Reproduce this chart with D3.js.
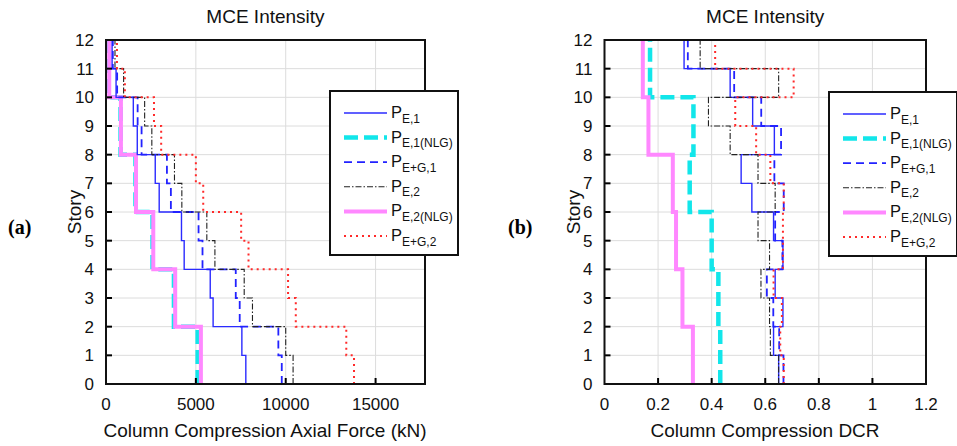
<!DOCTYPE html>
<html>
<head>
<meta charset="utf-8">
<script src="https://cdn.jsdelivr.net/npm/d3@7"></script>
<style>
  html, body { margin: 0; padding: 0; background: #fff; }
  svg { display: block; font-family: "Liberation Sans", Arial, sans-serif; }
</style>
</head>
<body>
<script>
// Story levels and axis ticks
const storyTicks = d3.range(0, 13);
const forceTicks = [0, 5000, 10000, 15000];
const dcrTicks = [0, 0.2, 0.4, 0.6, 0.8, 1, 1.2];

// Values per story interval: index i covers story i to i+1 (0-1 ... 11-12)
// (a) Column compression axial force, kN
const forcePE1     = [7780, 7560, 5960, 5800, 4350, 4200, 2960, 2740, 1740, 1520, 560, 340];
const forcePE1NLG  = [5100, 5100, 3780, 3780, 2590, 2590, 1640, 1640, 810, 810, 150, 150];
const forcePEG1    = [9780, 9590, 7440, 7220, 5370, 5150, 3610, 3390, 1980, 1760, 620, 380];
const forcePE2     = [10410, 10000, 8150, 7690, 6060, 5610, 4220, 3810, 2550, 2150, 980, 500];
const forcePE2NLG  = [5280, 5280, 3850, 3850, 2630, 2630, 1670, 1670, 830, 830, 180, 180];
const forcePEG2    = [13800, 13370, 10560, 10130, 7930, 7520, 5410, 5000, 3070, 2670, 1050, 610];

// (b) Column compression demand-to-capacity ratio
const dcrPE1     = [0.650, 0.631, 0.666, 0.637, 0.666, 0.631, 0.550, 0.510, 0.634, 0.553, 0.469, 0.297];
const dcrPE1NLG  = [0.432, 0.432, 0.425, 0.425, 0.400, 0.400, 0.318, 0.318, 0.332, 0.332, 0.170, 0.170];
const dcrPEG1    = [0.668, 0.652, 0.630, 0.606, 0.664, 0.637, 0.669, 0.634, 0.659, 0.585, 0.484, 0.311];
const dcrPE2     = [0.650, 0.619, 0.616, 0.584, 0.616, 0.573, 0.637, 0.573, 0.469, 0.388, 0.650, 0.357];
const dcrPE2NLG  = [0.330, 0.330, 0.291, 0.291, 0.267, 0.267, 0.255, 0.255, 0.164, 0.164, 0.143, 0.143];
const dcrPEG2    = [0.669, 0.656, 0.662, 0.631, 0.666, 0.666, 0.669, 0.619, 0.566, 0.488, 0.706, 0.413];

// Legend labels: main letter + subscript
const seriesNames = [
  { main: "P", sub: "E,1" },
  { main: "P", sub: "E,1(NLG)" },
  { main: "P", sub: "E+G,1" },
  { main: "P", sub: "E,2" },
  { main: "P", sub: "E,2(NLG)" },
  { main: "P", sub: "E+G,2" }
];

// Line styles, in the same order as the legend
const seriesStyles = [
  { color: "#2b2bff", width: 1.4, dash: null },
  { color: "#12e6ea", width: 4.5, dash: "14,6" },
  { color: "#2222ff", width: 1.8, dash: "8,5" },
  { color: "#222222", width: 1.1, dash: "6,2,1.5,2" },
  { color: "#ff88ff", width: 4, dash: null },
  { color: "#ff2a2a", width: 2, dash: "2,4" }
];

// Draw order: nonlinear envelopes underneath
const drawOrder = [1, 4, 0, 2, 3, 5];

const W = 957, H = 446;
const svg = d3.select("body").append("svg")
  .attr("width", W).attr("height", H)
  .attr("viewBox", `0 0 ${W} ${H}`);

const plotTop = 40, plotBottom = 384;

function drawPanel(cfg) {
  const x = d3.scaleLinear().domain(cfg.domain).range([cfg.left, cfg.right]);
  const y = d3.scaleLinear().domain([0, 12]).range([plotBottom, plotTop]);
  const g = svg.append("g");

  // grid
  g.append("g").selectAll("line.vg")
    .data(cfg.ticks.filter(t => t > cfg.domain[0] && t < cfg.domain[1]))
    .join("line")
    .attr("x1", d => x(d)).attr("x2", d => x(d))
    .attr("y1", plotTop).attr("y2", plotBottom)
    .attr("stroke", "#dcdcdc").attr("stroke-width", 1);
  g.append("g").selectAll("line.hg")
    .data(storyTicks.filter(s => s > 0 && s < 12))
    .join("line")
    .attr("x1", cfg.left).attr("x2", cfg.right)
    .attr("y1", d => y(d)).attr("y2", d => y(d))
    .attr("stroke", "#dcdcdc").attr("stroke-width", 1);

  // story profiles as steps
  const line = d3.line().x(d => x(d[0])).y(d => y(d[1]));
  drawOrder.forEach(k => {
    const vals = cfg.series[k];
    const pts = [];
    vals.forEach((v, i) => { pts.push([v, i]); pts.push([v, i + 1]); });
    const st = seriesStyles[k];
    g.append("path")
      .attr("d", line(pts))
      .attr("fill", "none")
      .attr("stroke", st.color)
      .attr("stroke-width", st.width)
      .attr("stroke-dasharray", st.dash)
      .attr("stroke-linejoin", "miter");
  });

  // inner tick marks
  g.append("g").selectAll("line")
    .data(storyTicks.filter(s => s > 0 && s < 12))
    .join("line")
    .attr("x1", cfg.left).attr("x2", cfg.left + 6)
    .attr("y1", d => y(d)).attr("y2", d => y(d))
    .attr("stroke", "#000").attr("stroke-width", 2);
  g.append("g").selectAll("line")
    .data(cfg.ticks.filter(t => t > cfg.domain[0] && t < cfg.domain[1]))
    .join("line")
    .attr("x1", d => x(d)).attr("x2", d => x(d))
    .attr("y1", plotBottom).attr("y2", plotBottom - 6)
    .attr("stroke", "#000").attr("stroke-width", 2);

  // frame
  g.append("rect")
    .attr("x", cfg.left).attr("y", plotTop)
    .attr("width", cfg.right - cfg.left).attr("height", plotBottom - plotTop)
    .attr("fill", "none").attr("stroke", "#111").attr("stroke-width", 2);

  // tick labels
  g.append("g").selectAll("text")
    .data(storyTicks)
    .join("text")
    .attr("x", cfg.left - 12).attr("y", d => y(d))
    .attr("dy", "0.36em")
    .attr("text-anchor", "end")
    .attr("font-size", 17).attr("fill", "#111")
    .text(d => d);
  g.append("g").selectAll("text")
    .data(cfg.ticks)
    .join("text")
    .attr("x", d => x(d)).attr("y", 410)
    .attr("text-anchor", "middle")
    .attr("font-size", 17).attr("fill", "#111")
    .text(cfg.tickFormat);

  // titles
  g.append("text")
    .attr("x", (cfg.left + cfg.right) / 2).attr("y", 23)
    .attr("text-anchor", "middle").attr("font-size", 19).attr("fill", "#111")
    .text("MCE Intensity");
  g.append("text")
    .attr("x", cfg.xTitleX).attr("y", 437)
    .attr("text-anchor", "middle").attr("font-size", 19).attr("fill", "#111")
    .text(cfg.xTitle);
  g.append("text")
    .attr("transform", `translate(${cfg.left - 25},${(plotTop + plotBottom) / 2}) rotate(-90)`)
    .attr("text-anchor", "middle").attr("font-size", 19).attr("fill", "#111")
    .text("Story");
  g.append("text")
    .attr("x", cfg.tagX).attr("y", 234)
    .attr("font-family", "'Liberation Serif', 'Times New Roman', serif")
    .attr("font-weight", "bold").attr("font-size", 20).attr("fill", "#000")
    .text(cfg.tag);

  // legend
  const lg = g.append("g").attr("transform", `translate(${cfg.legendX},${cfg.legendY})`);
  lg.append("rect")
    .attr("width", 128).attr("height", 164)
    .attr("fill", "#fff").attr("stroke", "#111").attr("stroke-width", 2);
  seriesNames.forEach((nm, i) => {
    const st = seriesStyles[i];
    const ry = 22 + i * 24.6;
    lg.append("line")
      .attr("x1", 14).attr("x2", 57).attr("y1", ry).attr("y2", ry)
      .attr("stroke", st.color).attr("stroke-width", st.width)
      .attr("stroke-dasharray", st.dash);
    const t = lg.append("text")
      .attr("x", 61).attr("y", ry + 5)
      .attr("fill", "#111");
    t.append("tspan").attr("font-size", 16.5).text(nm.main);
    t.append("tspan").attr("font-size", 12).attr("dy", 4.5).text(nm.sub);
  });
}

drawPanel({
  left: 106, right: 425, domain: [0, 17750],
  ticks: forceTicks, tickFormat: d => d,
  series: [forcePE1, forcePE1NLG, forcePEG1, forcePE2, forcePE2NLG, forcePEG2],
  xTitle: "Column Compression Axial Force (kN)", xTitleX: 265,
  tag: "(a)", tagX: 8,
  legendX: 330, legendY: 91
});

drawPanel({
  left: 604.5, right: 926, domain: [0, 1.2],
  ticks: dcrTicks, tickFormat: d => d3.format("~g")(d),
  series: [dcrPE1, dcrPE1NLG, dcrPEG1, dcrPE2, dcrPE2NLG, dcrPEG2],
  xTitle: "Column Compression DCR", xTitleX: 765,
  tag: "(b)", tagX: 508,
  legendX: 829, legendY: 92
});
</script>
</body>
</html>
